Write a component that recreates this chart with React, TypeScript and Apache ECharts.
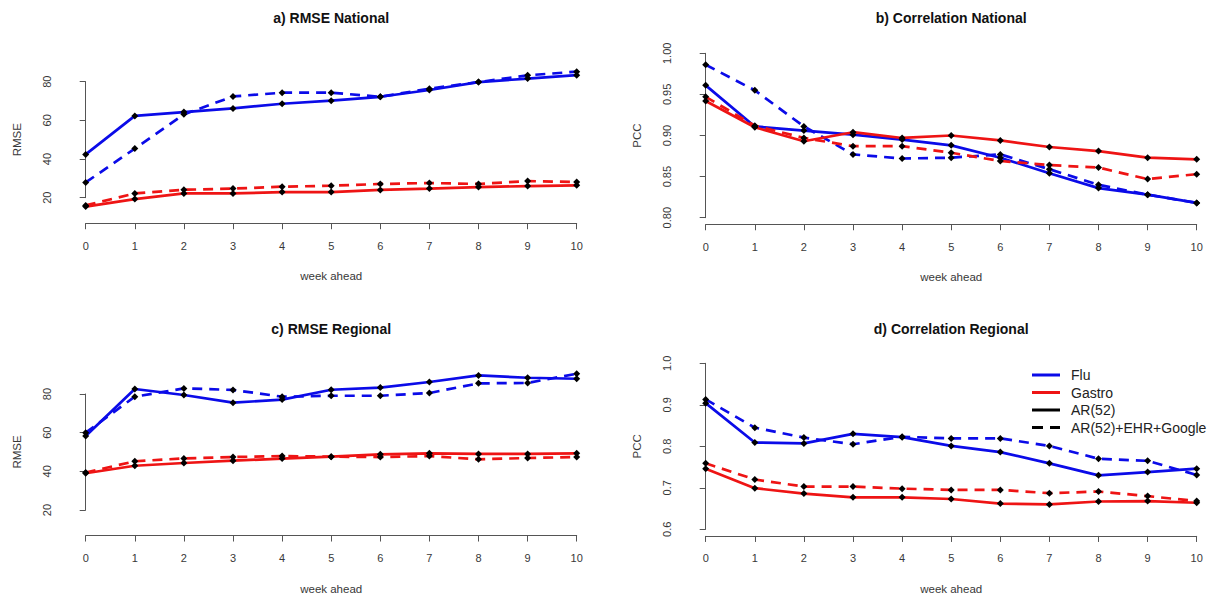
import React, { useEffect, useRef } from "react";
import * as echarts from "echarts";

// ---------- data ----------
const weeks = [0, 1, 2, 3, 4, 5, 6, 7, 8, 9, 10];

const panelTitles = ["a) RMSE National", "b) Correlation National", "c) RMSE Regional", "d) Correlation Regional"];
const yAxisNames = ["RMSE", "PCC", "RMSE", "PCC"];
const xAxisName = "week ahead";

const rmseTicks = [20, 40, 60, 80];
const pccNatTicks = [0.8, 0.85, 0.9, 0.95, 1.0];
const pccRegTicks = [0.6, 0.7, 0.8, 0.9, 1.0];

const legendNames = ["Flu", "Gastro", "AR(52)", "AR(52)+EHR+Google"];

// a) RMSE National
const fluArRmseNat = [42.4, 62.3, 64.3, 66.2, 68.6, 70.2, 72.2, 75.7, 79.8, 81.6, 83.4];
const fluFullRmseNat = [27.9, 45.4, 63.1, 72.4, 74.3, 74.3, 72.2, 76.4, 79.8, 83.3, 85.2];
const gasArRmseNat = [15.4, 19.3, 22.2, 22.2, 22.9, 22.9, 24.0, 24.7, 25.5, 26.0, 26.4];
const gasFullRmseNat = [16.0, 22.2, 24.1, 24.7, 25.7, 26.2, 27.1, 27.6, 27.1, 28.6, 28.1];

// b) Correlation National
const fluArPccNat = [0.961, 0.911, 0.906, 0.901, 0.895, 0.888, 0.873, 0.854, 0.836, 0.828, 0.818];
const fluFullPccNat = [0.986, 0.955, 0.911, 0.877, 0.872, 0.873, 0.877, 0.859, 0.840, 0.828, 0.818];
const gasArPccNat = [0.942, 0.910, 0.893, 0.904, 0.897, 0.900, 0.894, 0.886, 0.881, 0.873, 0.871];
const gasFullPccNat = [0.947, 0.912, 0.897, 0.887, 0.887, 0.879, 0.869, 0.864, 0.861, 0.847, 0.853];

// c) RMSE Regional
const fluArRmseReg = [58.3, 82.6, 79.5, 75.5, 77.1, 82.2, 83.3, 86.2, 89.6, 88.4, 87.9];
const fluFullRmseReg = [60.0, 78.6, 82.9, 82.1, 78.6, 79.1, 79.1, 80.5, 85.5, 85.7, 90.5];
const gasArRmseReg = [39.0, 42.9, 44.3, 45.5, 46.6, 47.6, 48.8, 49.3, 49.0, 49.0, 49.3];
const gasFullRmseReg = [39.4, 45.2, 46.7, 47.4, 47.9, 47.6, 47.4, 47.9, 46.2, 46.9, 47.4];

// d) Correlation Regional
const fluArPccReg = [0.904, 0.809, 0.807, 0.830, 0.822, 0.801, 0.786, 0.759, 0.730, 0.738, 0.746];
const fluFullPccReg = [0.913, 0.845, 0.821, 0.805, 0.823, 0.819, 0.819, 0.801, 0.770, 0.765, 0.731];
const gasArPccReg = [0.746, 0.699, 0.686, 0.677, 0.677, 0.673, 0.662, 0.660, 0.667, 0.668, 0.664];
const gasFullPccReg = [0.759, 0.720, 0.703, 0.703, 0.698, 0.695, 0.695, 0.687, 0.691, 0.680, 0.668];

// ---------- style / layout ----------
const FONT = '"Liberation Sans", Arial, Helvetica, sans-serif';
const BLUE = "#0b0be8";
const RED = "#ee1414";
const AXIS_GREY = "#555";
const TEXT_GREY = "#383838";

const SOLID_ICON = "path://M0,0H28V3H0Z";
const DASH_ICON = "path://M0,0H11V3H0Z M18,0H28V3H18Z";

const panels = [
  { title: panelTitles[0], yName: yAxisNames[0], ticks: rmseTicks, dec: 0, ylim: [10, 90], xPx: [85.7, 576.7], yPx: [197.7, 81.7], titleY: 18.3,
    series: [fluArRmseNat, fluFullRmseNat, gasArRmseNat, gasFullRmseNat] },
  { title: panelTitles[1], yName: yAxisNames[1], ticks: pccNatTicks, dec: 2, ylim: [0.8, 1.0], xPx: [705.7, 1196.7], yPx: [217.7, 53.3], titleY: 18.3,
    series: [fluArPccNat, fluFullPccNat, gasArPccNat, gasFullPccNat] },
  { title: panelTitles[2], yName: yAxisNames[2], ticks: rmseTicks, dec: 0, ylim: [10, 90], xPx: [85.7, 576.7], yPx: [510, 394], titleY: 329.3,
    series: [fluArRmseReg, fluFullRmseReg, gasArRmseReg, gasFullRmseReg] },
  { title: panelTitles[3], yName: yAxisNames[3], ticks: pccRegTicks, dec: 1, ylim: [0.6, 1.0], xPx: [705.7, 1196.7], yPx: [529.3, 363.3], titleY: 329.3,
    series: [fluArPccReg, fluFullPccReg, gasArPccReg, gasFullPccReg] },
];

const seriesStyles = [
  { color: BLUE, type: "solid", label: "Flu AR(52)" },
  { color: BLUE, type: "dashed", label: "Flu AR(52)+EHR+Google" },
  { color: RED, type: "solid", label: "Gastro AR(52)" },
  { color: RED, type: "dashed", label: "Gastro AR(52)+EHR+Google" },
];

function buildOption() {
  const grid: any[] = [];
  const xAxis: any[] = [];
  const yAxis: any[] = [];
  const series: any[] = [];
  const title: any[] = [];

  panels.forEach((p, pi) => {
    const t0 = p.ticks[0];
    const t1 = p.ticks[p.ticks.length - 1];
    const ext = 0.04 * (p.ylim[1] - p.ylim[0]);
    const lo = p.ylim[0] - ext;
    const hi = p.ylim[1] + ext;
    const ppu = (p.yPx[0] - p.yPx[1]) / (t1 - t0);
    const top = p.yPx[1] - (hi - t1) * ppu;
    const bottom = p.yPx[0] + (t0 - lo) * ppu;
    const xppu = (p.xPx[1] - p.xPx[0]) / 10;
    const left = p.xPx[0] - 0.4 * xppu;
    const right = p.xPx[1] + 0.4 * xppu;

    const base = pi * 3;
    grid.push({ left, top, width: right - left, height: bottom - top, outerBoundsMode: "none", containLabel: false });
    grid.push({ left: p.xPx[0], top, width: p.xPx[1] - p.xPx[0], height: bottom - top, outerBoundsMode: "none", containLabel: false });
    grid.push({ left, top: p.yPx[1], width: right - left, height: p.yPx[0] - p.yPx[1], outerBoundsMode: "none", containLabel: false });

    xAxis.push({ gridIndex: base, type: "value", min: -0.4, max: 10.4, show: false });
    xAxis.push({
      gridIndex: base + 1, type: "value", min: 0, max: 10, interval: 1, position: "bottom",
      axisLine: { show: true, lineStyle: { color: AXIS_GREY, width: 1 } },
      axisTick: { show: true, length: 6, lineStyle: { color: AXIS_GREY, width: 1 } },
      axisLabel: { fontSize: 11, color: TEXT_GREY, fontFamily: FONT, margin: 17 },
      splitLine: { show: false },
      name: xAxisName, nameLocation: "middle", nameGap: 47,
      nameTextStyle: { fontSize: 11.5, color: TEXT_GREY, fontFamily: FONT },
    });
    xAxis.push({ gridIndex: base + 2, type: "value", min: -0.4, max: 10.4, show: false });

    yAxis.push({ gridIndex: base, type: "value", min: lo, max: hi, show: false });
    yAxis.push({ gridIndex: base + 1, type: "value", min: lo, max: hi, show: false });
    yAxis.push({
      gridIndex: base + 2, type: "value", min: t0, max: t1, interval: p.ticks[1] - p.ticks[0], position: "left",
      axisLine: { show: true, lineStyle: { color: AXIS_GREY, width: 1 } },
      axisTick: { show: true, length: 6, lineStyle: { color: AXIS_GREY, width: 1 } },
      axisLabel: {
        fontSize: 11, color: TEXT_GREY, fontFamily: FONT, rotate: 90, margin: 14,
        formatter: (v: number) => v.toFixed(p.dec),
      },
      splitLine: { show: false },
      name: p.yName, nameLocation: "middle", nameRotate: 90, nameGap: 43,
      nameTextStyle: { fontSize: 11.5, color: TEXT_GREY, fontFamily: FONT },
    });

    title.push({
      text: p.title, left: (left + right) / 2, top: p.titleY - 7.5, textAlign: "center", padding: 0,
      textStyle: { fontSize: 14, fontWeight: "bold", color: "#111", fontFamily: FONT },
    });

    p.series.forEach((vals, si) => {
      const st = seriesStyles[si];
      series.push({
        type: "line",
        name: panelTitles[pi] + " " + st.label,
        xAxisIndex: base, yAxisIndex: base,
        data: vals.map((v, i) => [weeks[i], v]),
        symbol: "diamond", symbolSize: 7, showSymbol: true,
        itemStyle: { color: "#000" },
        lineStyle: { color: st.color, width: 2.7, type: st.type === "dashed" ? [10, 7] : "solid" },
        z: 2,
      });
    });
  });

  // legend-only series (panel d)
  const legendStyles = [
    { color: BLUE, icon: SOLID_ICON },
    { color: RED, icon: SOLID_ICON },
    { color: "#000", icon: SOLID_ICON },
    { color: "#000", icon: DASH_ICON },
  ];
  legendNames.forEach((n, i) => {
    series.push({
      type: "line", name: n, xAxisIndex: 9, yAxisIndex: 9, data: [],
      symbol: "none", itemStyle: { color: legendStyles[i].color },
      lineStyle: { color: legendStyles[i].color, width: 2.7 },
    });
  });

  return {
    animation: false,
    backgroundColor: "#fff",
    title,
    grid,
    xAxis,
    yAxis,
    series,
    legend: {
      data: legendNames.map((n, i) => ({ name: n, icon: legendStyles[i].icon, itemStyle: { color: legendStyles[i].color, borderWidth: 0 } })),
      orient: "vertical", left: 1032, top: 368, itemWidth: 28, itemHeight: 3, itemGap: 3.5, padding: 0,
      textStyle: { fontSize: 14, color: "#222", fontFamily: FONT, padding: [0, 0, 0, 6] },
      selectedMode: false,
    },
  };
}

export default function App() {
  const ref = useRef<HTMLDivElement>(null);
  useEffect(() => {
    if (!ref.current) return;
    const chart = echarts.init(ref.current, null, { renderer: "svg" });
    chart.setOption(buildOption() as any);
    return () => chart.dispose();
  }, []);
  return <div ref={ref} style={{ position: "absolute", left: 0, top: 0, width: 1214, height: 595, background: "#fff" }} />;
}
